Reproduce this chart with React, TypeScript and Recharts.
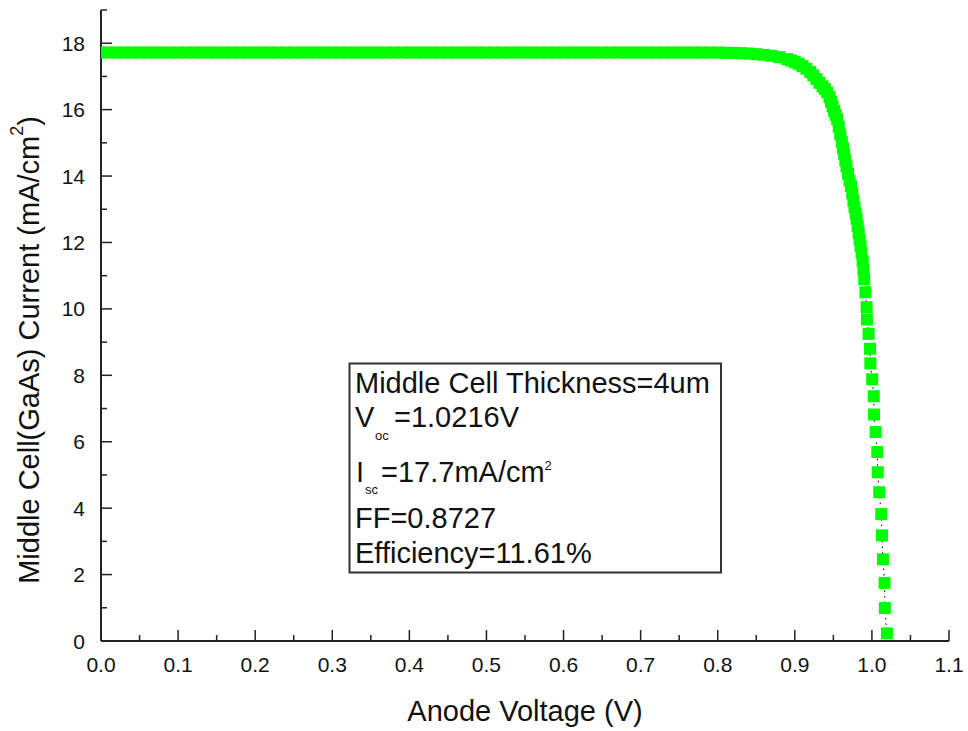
import { ComposedChart, Line, XAxis, YAxis } from 'recharts';

// Anode voltage (V) of each simulated point
const voltage = [
  0.0, 0.01, 0.02, 0.03, 0.04, 0.05, 0.06, 0.07, 0.08, 0.09,
  0.1, 0.11, 0.12, 0.13, 0.14, 0.15, 0.16, 0.17, 0.18, 0.19,
  0.2, 0.21, 0.22, 0.23, 0.24, 0.25, 0.26, 0.27, 0.28, 0.29,
  0.3, 0.31, 0.32, 0.33, 0.34, 0.35, 0.36, 0.37, 0.38, 0.39,
  0.4, 0.41, 0.42, 0.43, 0.44, 0.45, 0.46, 0.47, 0.48, 0.49,
  0.5, 0.51, 0.52, 0.53, 0.54, 0.55, 0.56, 0.57, 0.58, 0.59,
  0.6, 0.61, 0.62, 0.63, 0.64, 0.65, 0.66, 0.67, 0.68, 0.69,
  0.7, 0.71, 0.72, 0.73, 0.74, 0.75, 0.76, 0.77, 0.78, 0.79,
  0.8, 0.81, 0.82, 0.83, 0.84, 0.85, 0.86, 0.87, 0.88, 0.89,
  0.895, 0.9, 0.905, 0.91, 0.915, 0.92, 0.924, 0.928, 0.932, 0.936,
  0.939, 0.942, 0.945, 0.947, 0.949, 0.951, 0.953, 0.955, 0.957, 0.959,
  0.961, 0.9625, 0.964, 0.9655, 0.967, 0.969, 0.971, 0.9728, 0.9745, 0.976,
  0.9775, 0.979, 0.9802, 0.9815, 0.9828, 0.984, 0.9853, 0.9866, 0.988, 0.989,
  0.99, 0.9916, 0.9931, 0.9935, 0.9957, 0.9976, 0.998, 1.0004, 1.0024, 1.0028,
  1.0048, 1.007, 1.0076, 1.0095, 1.0121, 1.013, 1.0143, 1.0164, 1.0168, 1.0195,
];

// Middle cell current (mA/cm2)
const current = [
  17.72, 17.72, 17.72, 17.72, 17.72, 17.72, 17.72, 17.72, 17.72, 17.72,
  17.72, 17.72, 17.72, 17.72, 17.72, 17.72, 17.72, 17.72, 17.72, 17.72,
  17.72, 17.72, 17.72, 17.72, 17.72, 17.72, 17.72, 17.72, 17.72, 17.72,
  17.72, 17.72, 17.72, 17.72, 17.72, 17.72, 17.72, 17.72, 17.72, 17.72,
  17.72, 17.72, 17.72, 17.72, 17.72, 17.72, 17.72, 17.72, 17.72, 17.72,
  17.72, 17.72, 17.72, 17.72, 17.72, 17.72, 17.72, 17.72, 17.72, 17.72,
  17.72, 17.72, 17.72, 17.72, 17.72, 17.72, 17.72, 17.72, 17.72, 17.72,
  17.72, 17.72, 17.72, 17.72, 17.72, 17.72, 17.72, 17.72, 17.72, 17.72,
  17.72, 17.71, 17.71, 17.7, 17.69, 17.67, 17.65, 17.62, 17.58, 17.52,
  17.48, 17.43, 17.38, 17.31, 17.23, 17.13, 17.03, 16.92, 16.81, 16.7,
  16.62, 16.52, 16.38, 16.24, 16.1, 15.96, 15.84, 15.71, 15.48, 15.25,
  15.02, 14.84, 14.66, 14.48, 14.29, 14.07, 13.86, 13.7, 13.48, 13.27,
  13.06, 12.87, 12.71, 12.5, 12.29, 12.08, 11.89, 11.69, 11.44, 11.18,
  10.89, 10.5, 10.05, 9.68, 9.25, 8.8, 8.36, 7.88, 7.37, 6.82,
  6.29, 5.69, 5.08, 4.48, 3.82, 3.18, 2.46, 1.75, 0.99, 0.23,
];

const xTicks = [0, 0.05, 0.1, 0.15, 0.2, 0.25, 0.3, 0.35, 0.4, 0.45, 0.5, 0.55, 0.6, 0.65, 0.7, 0.75, 0.8, 0.85, 0.9, 0.95, 1.0, 1.05, 1.1];
const yTicks = [0, 1, 2, 3, 4, 5, 6, 7, 8, 9, 10, 11, 12, 13, 14, 15, 16, 17, 18, 19];

const data = voltage.map((v, i) => ({ v, i: current[i] }));

const FONT = '"Liberation Sans", Arial, sans-serif';
const AXIS = '#222';
const MAJOR = 11;
const MINOR = 6;

const isMajorX = (v: number) => Math.abs(v * 10 - Math.round(v * 10)) < 1e-6;
const isMajorY = (v: number) => v % 2 === 0;

function BottomTick({ x, y, payload }: any) {
  const major = isMajorX(payload.value);
  return (
    <g>
      <line x1={x} y1={y} x2={x} y2={y - (major ? MAJOR : MINOR)} stroke={AXIS} strokeWidth={1.5} />
      {major && (
        <text x={x} y={y + 31} textAnchor="middle" fontSize={21} fontFamily={FONT} fill="#111">
          {payload.value.toFixed(1)}
        </text>
      )}
    </g>
  );
}

function TopTick({ x, y, payload }: any) {
  const major = isMajorX(payload.value);
  return <line x1={x} y1={y} x2={x} y2={y + (major ? MAJOR : MINOR)} stroke={AXIS} strokeWidth={1.5} />;
}

function LeftTick({ x, y, payload }: any) {
  const major = isMajorY(payload.value);
  return (
    <g>
      <line x1={x} y1={y} x2={x + (major ? MAJOR : MINOR)} y2={y} stroke={AXIS} strokeWidth={1.5} />
      {major && (
        <text x={x - 16} y={y + 7.5} textAnchor="end" fontSize={21} fontFamily={FONT} fill="#111">
          {payload.value}
        </text>
      )}
    </g>
  );
}

function RightTick({ x, y, payload }: any) {
  const major = isMajorY(payload.value);
  return <line x1={x} y1={y} x2={x - (major ? MAJOR : MINOR)} y2={y} stroke={AXIS} strokeWidth={1.5} />;
}

function SquareDot({ cx, cy, index }: any) {
  return <rect key={index} x={cx - 6} y={cy - 6} width={12} height={12} fill="#00ff00" />;
}

export default function App() {
  return (
    <div style={{ position: 'absolute', left: 0, top: 0, width: 968, height: 731, background: '#fff' }}>
      <ComposedChart width={968} height={731} data={data} margin={{ top: 10, right: 19, bottom: 0, left: 0 }}>
        <XAxis
          xAxisId="bottom"
          dataKey="v"
          type="number"
          domain={[0, 1.1]}
          allowDataOverflow
          ticks={xTicks}
          interval={0}
          height={90}
          tickSize={0}
          tickMargin={0}
          tickLine={false}
          tick={<BottomTick />}
          axisLine={{ stroke: AXIS, strokeWidth: 2 }}
        />
        <XAxis
          xAxisId="top"
          orientation="top"
          type="number"
          domain={[0, 1.1]}
          allowDataOverflow
          ticks={xTicks}
          interval={0}
          height={0}
          tickSize={0}
          tickMargin={0}
          tickLine={false}
          tick={<TopTick />}
          axisLine={{ stroke: AXIS, strokeWidth: 2 }}
        />
        <YAxis
          yAxisId="left"
          type="number"
          domain={[0, 19]}
          ticks={yTicks}
          interval={0}
          width={101}
          tickSize={0}
          tickMargin={0}
          tickLine={false}
          tick={<LeftTick />}
          axisLine={{ stroke: AXIS, strokeWidth: 2 }}
        />
        <YAxis
          yAxisId="right"
          orientation="right"
          type="number"
          domain={[0, 19]}
          allowDataOverflow
          ticks={yTicks}
          interval={0}
          width={0}
          tickSize={0}
          tickMargin={0}
          tickLine={false}
          tick={<RightTick />}
          axisLine={{ stroke: AXIS, strokeWidth: 2 }}
        />
        <Line
          xAxisId="bottom"
          yAxisId="left"
          type="linear"
          dataKey="i"
          stroke="#000"
          strokeWidth={1}
          strokeDasharray="1.5 4"
          dot={<SquareDot />}
          activeDot={false}
          isAnimationActive={false}
        />
      </ComposedChart>
      <svg
        width={968}
        height={731}
        style={{ position: 'absolute', left: 0, top: 0, pointerEvents: 'none' }}
        fontFamily={FONT}
      >
        <text x={525} y={721} textAnchor="middle" fontSize={29} fill="#111">
          Anode Voltage (V)
        </text>
        <text transform="translate(39,350) rotate(-90)" textAnchor="middle" fontSize={29} fill="#111">
          Middle Cell(GaAs) Current (mA/cm
          <tspan dy={-16} fontSize={18}>2</tspan>
          <tspan dy={16}>)</tspan>
        </text>
        <rect x={349.5} y={363.5} width={371.5} height={209} fill="none" stroke="#333" strokeWidth={2} />
        <g fontSize={29} fill="#111">
          <text x={355} y={393}>Middle Cell Thickness=4um</text>
          <text x={355} y={427}>
            V<tspan x={375} y={440} fontSize={13}>oc</tspan>
            <tspan x={394} y={427}>=1.0216V</tspan>
          </text>
          <text x={356} y={482}>
            I<tspan x={365} y={494} fontSize={13}>sc</tspan>
            <tspan x={381} y={482}>=17.7mA/cm</tspan>
            <tspan y={470} fontSize={13}>2</tspan>
          </text>
          <text x={355} y={528}>FF=0.8727</text>
          <text x={355} y={563}>Efficiency=11.61%</text>
        </g>
      </svg>
    </div>
  );
}
